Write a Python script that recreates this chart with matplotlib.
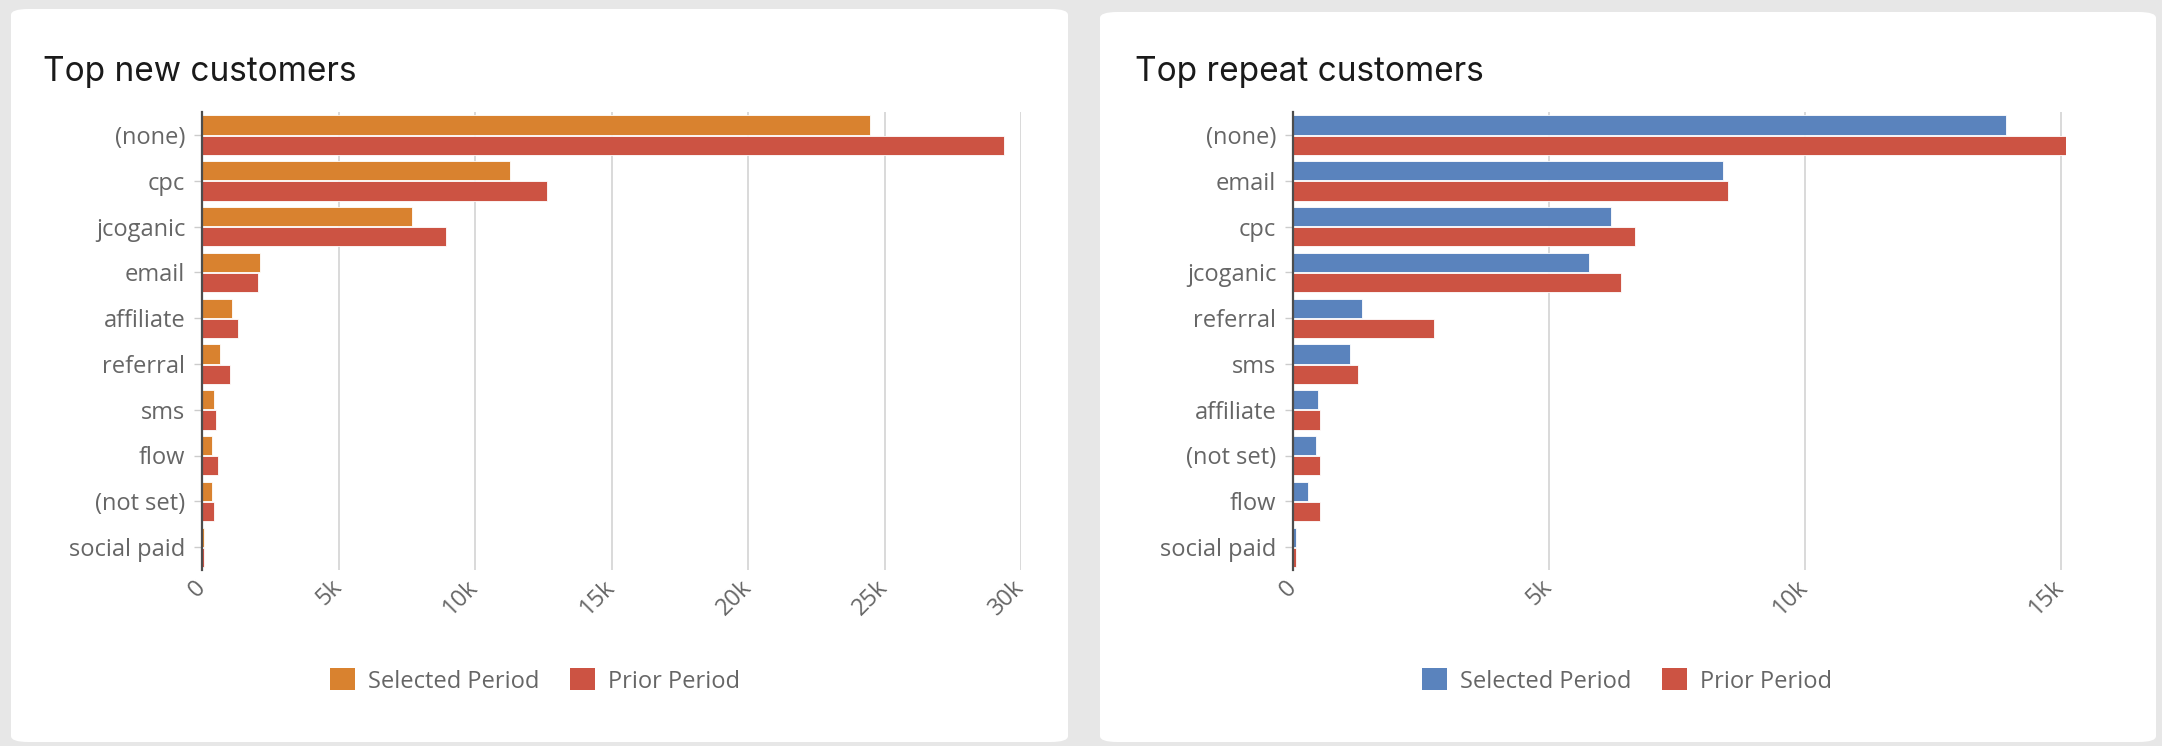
import matplotlib.pyplot as plt
import matplotlib.transforms as mtransforms
from matplotlib.patches import FancyBboxPatch, Patch
from matplotlib.ticker import FixedLocator
import numpy as np

# data
new_cats = ["(none)", "cpc", "jcoganic", "email", "affiliate", "referral",
            "sms", "flow", "(not set)", "social paid"]
new_selected = [24470, 11290, 7700, 2120, 1100, 670, 450, 370, 370, 80]
new_prior = [29380, 12650, 8920, 2050, 1320, 1030, 520, 590, 450, 80]

rep_cats = ["(none)", "email", "cpc", "jcoganic", "referral", "sms",
            "affiliate", "(not set)", "flow", "social paid"]
rep_selected = [13920, 8400, 6220, 5790, 1340, 1110, 480, 440, 290, 50]
rep_prior = [15100, 8490, 6680, 6410, 2750, 1260, 520, 520, 520, 50]

new_ticks = [0, 5000, 10000, 15000, 20000, 25000, 30000]
rep_ticks = [0, 5000, 10000, 15000]
tick_labels = {0: "0", 5000: "5k", 10000: "10k", 15000: "15k",
               20000: "20k", 25000: "25k", 30000: "30k"}

ORANGE = "#d9822f"
RED = "#cc5343"
BLUE = "#5a83bd"
GRAY_TXT = "#666666"
FONT = "Open Sans"

W, H = 2162, 746
fig = plt.figure(figsize=(W / 100, H / 100), dpi=100)
fig.patch.set_facecolor("#e7e7e7")


def px(x0, y0, x1, y1):
    # pixel box (top-left origin) -> figure fraction rect
    return [x0 / W, 1 - y1 / H, (x1 - x0) / W, (y1 - y0) / H]


def card(x0, y0, x1, y1):
    r = px(x0, y0, x1, y1)
    p = FancyBboxPatch((r[0], r[1]), r[2], r[3],
                       boxstyle="round,pad=0,rounding_size=0.008",
                       transform=fig.transFigure, facecolor="white",
                       edgecolor="none", zorder=-5)
    fig.patches.append(p)


def panel(rect, title, title_xy, cats, sel, prior, sel_color, ticks, xmax, leg_center):
    ax = fig.add_axes(rect, zorder=2)
    y = np.arange(len(cats))
    h = 0.42
    ax.barh(y - 0.215, sel, height=h, color=sel_color, edgecolor="white", linewidth=0.6, zorder=3)
    ax.barh(y + 0.225, prior, height=h, color=RED, edgecolor="white", linewidth=0.6, zorder=3)
    ax.set_ylim(len(cats) - 0.5, -0.5)
    ax.set_xlim(0, xmax)
    ax.set_yticks(y)
    ax.set_yticklabels(cats, fontsize=17, color=GRAY_TXT, family=FONT)
    ax.xaxis.set_major_locator(FixedLocator(ticks))
    ax.set_xticklabels([tick_labels[t] for t in ticks], rotation=45, ha="right",
                       va="center", rotation_mode="anchor", fontsize=17,
                       color=GRAY_TXT, family=FONT)
    shift = mtransforms.ScaledTranslation(0.17, 0, fig.dpi_scale_trans)
    for lab in ax.get_xticklabels():
        lab.set_transform(lab.get_transform() + shift)
    ax.tick_params(axis="y", length=6, width=1, color="#cccccc", pad=6)
    ax.tick_params(axis="x", length=0, pad=10)
    ax.grid(axis="x", color="#d9d9d9", linewidth=1.4, zorder=0)
    for s in ["top", "right", "bottom"]:
        ax.spines[s].set_visible(False)
    ax.spines["left"].set_color("#4d4d4d")
    ax.spines["left"].set_linewidth(1.6)
    ax.spines["left"].set_zorder(4)
    ax.patch.set_alpha(0)

    fig.text(title_xy[0] / W, 1 - title_xy[1] / H, title, fontsize=24,
             family="Inter", color="#1a1a1a", va="baseline", ha="left")

    handles = [Patch(facecolor=sel_color, label="Selected Period"),
               Patch(facecolor=RED, label="Prior Period")]
    fig.legend(handles=handles, loc="center", ncol=2, frameon=False,
               bbox_to_anchor=(leg_center[0] / W, 1 - leg_center[1] / H),
               prop={"family": FONT, "size": 17}, labelcolor=GRAY_TXT,
               handlelength=1.05, handleheight=1.05, handletextpad=0.55,
               columnspacing=1.3)
    return ax


card(11, 9, 1068, 742)
card(1100, 12, 2156, 742)

panel(px(202, 112, 1021, 570), "Top new customers", (43, 81),
      new_cats, new_selected, new_prior, ORANGE, new_ticks, 30000, (535, 681))
panel(px(1293, 112, 2066, 570), "Top repeat customers", (1135, 81),
      rep_cats, rep_selected, rep_prior, BLUE, rep_ticks, 15100, (1627, 681))

fig.savefig("out.png", dpi=100, facecolor=fig.get_facecolor())
